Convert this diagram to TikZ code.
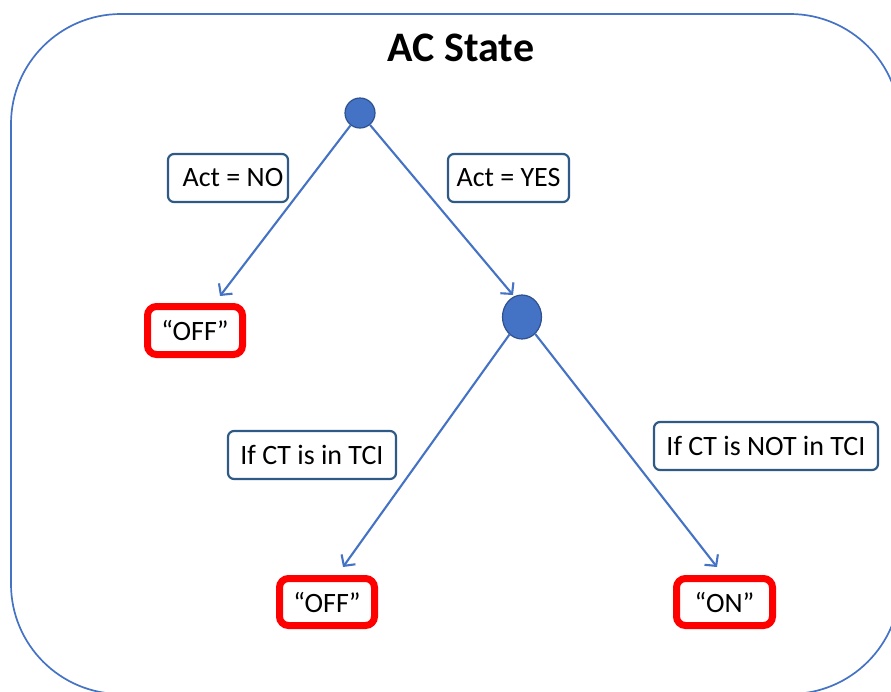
\documentclass[tikz,border=0pt]{standalone}
\usepackage{fontspec}
\setmainfont{Carlito}
\usetikzlibrary{arrows.meta,shapes.geometric}
\definecolor{accent}{HTML}{4472C4}
\definecolor{accentdark}{HTML}{2F528F}
\definecolor{labelborder}{HTML}{2F5A85}
\definecolor{alertred}{HTML}{FF0000}
\begin{document}
\begin{tikzpicture}[x=1pt,y=-1pt,
  lbl/.style={draw=labelborder, line width=2.2pt, rounded corners=6pt, fill=white,
    font=\fontsize{28}{32}\selectfont, inner sep=0pt, minimum height=48pt},
  result/.style={draw=alertred, line width=7pt, rounded corners=9pt, fill=white,
    font=\fontsize{28}{32}\selectfont, inner sep=0pt},
  dot/.style={fill=accent, draw=accentdark, line width=1.2pt, inner sep=0pt},
  branch/.style={draw=accent, line width=2.1pt, -{Straight Barb[length=8pt,width=17pt]}}]
  \clip (0,0) rectangle (891,691);
  \useasboundingbox (0,0) rectangle (891,691);

  % frame
  \draw[accent, line width=1.7pt, rounded corners=110pt] (11,14) rectangle (900,694);

  % title
  \node (title) at (461,48) {\fontsize{42}{46}\selectfont\bfseries AC State};

  % decision points
  \node[dot, circle, minimum size=30pt] (c1) at (360,113) {};
  \node[dot, ellipse, minimum width=39pt, minimum height=44pt] (c2) at (522,317) {};

  % arrow ends
  \coordinate (t1) at (220,296);
  \coordinate (t2) at (513,295);
  \coordinate (t3) at (343,567);
  \coordinate (t4) at (717,567);

  \draw[branch] (c1) -- (t1);
  \draw[branch] (c1) -- (t2);
  \draw[branch] (c2) -- (t3);
  \draw[branch] (c2) -- (t4);

  % condition labels
  \node[lbl, minimum width=120pt] (no) at (228,178) {\hspace*{10pt}Act = NO};
  \node[lbl, minimum width=121pt] (yes) at (508.5,178) {Act = YES};
  \node[lbl, minimum width=168pt] (intci) at (312,455) {If CT is in TCI};
  \node[lbl, minimum width=224pt] (notintci) at (766,446) {If CT is NOT in TCI};

  % outcomes
  \node[result, minimum width=95pt, minimum height=48pt] (off1) at (195,330.5) {“OFF”};
  \node[result, minimum width=95pt, minimum height=47pt] (off2) at (327,602) {“OFF”};
  \node[result, minimum width=96pt, minimum height=47pt] (on) at (724.5,602) {“ON”};
\end{tikzpicture}
\end{document}
